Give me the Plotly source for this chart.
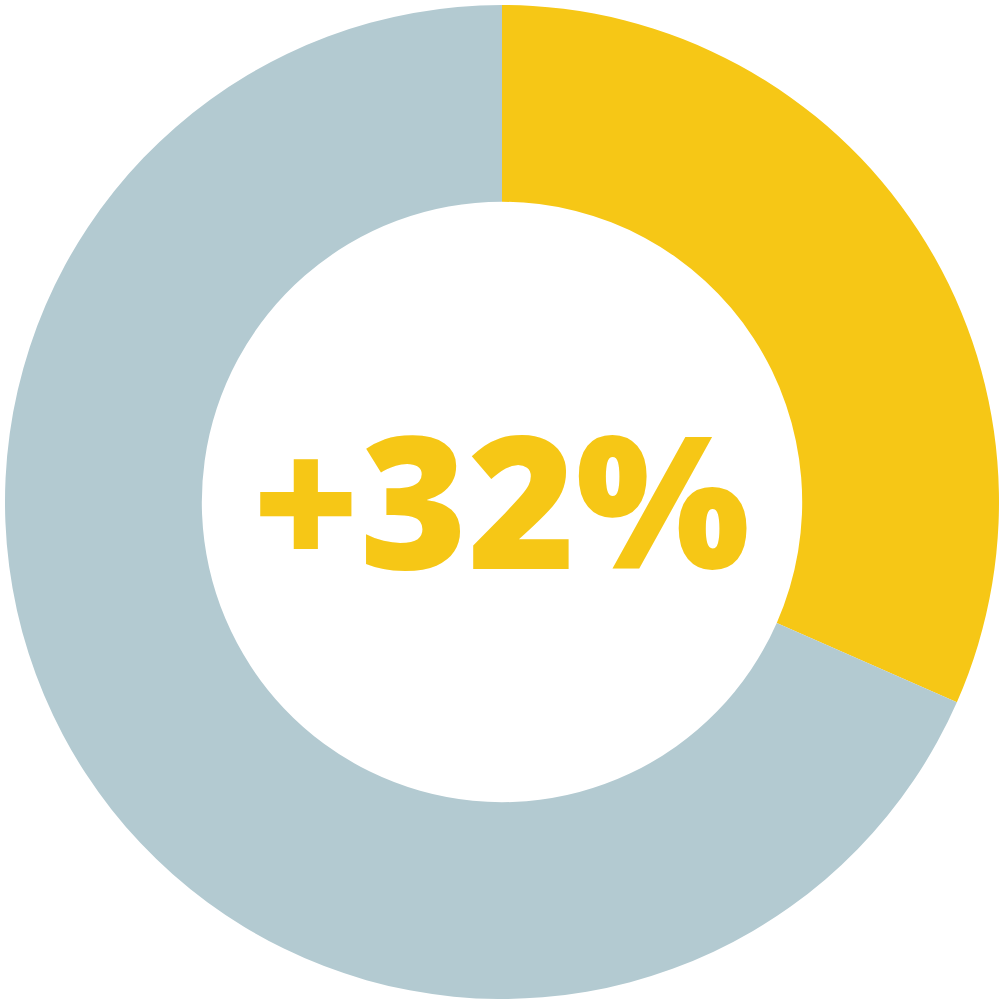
import plotly.graph_objects as go

labels = ["Increase", "Rest"]
values = [31.6, 68.4]
colors = ["#F6C716", "#B3CAD1"]
center_text = "+32%"

fig = go.Figure(go.Pie(
    labels=labels, values=values, hole=0.604, sort=False,
    direction="clockwise", rotation=0,
    marker=dict(colors=colors, line=dict(width=0)),
    textinfo="none", hoverinfo="label+percent",
    domain=dict(x=[0.005, 0.999], y=[0.001, 0.995]),
))
fig.add_annotation(text=center_text, x=0.501, y=0.503, xref="paper", yref="paper",
                   showarrow=False, xanchor="center", yanchor="middle",
                   font=dict(family="Open Sans", size=184, color="#F6C716", weight=800))
fig.update_layout(width=1000, height=1000, margin=dict(l=0, r=0, t=0, b=0),
                  showlegend=False, paper_bgcolor="white", plot_bgcolor="white")
fig.write_html("out.html", config={"displayModeBar": False},
               post_script="document.body.style.margin='0';document.body.style.overflow='hidden';")
